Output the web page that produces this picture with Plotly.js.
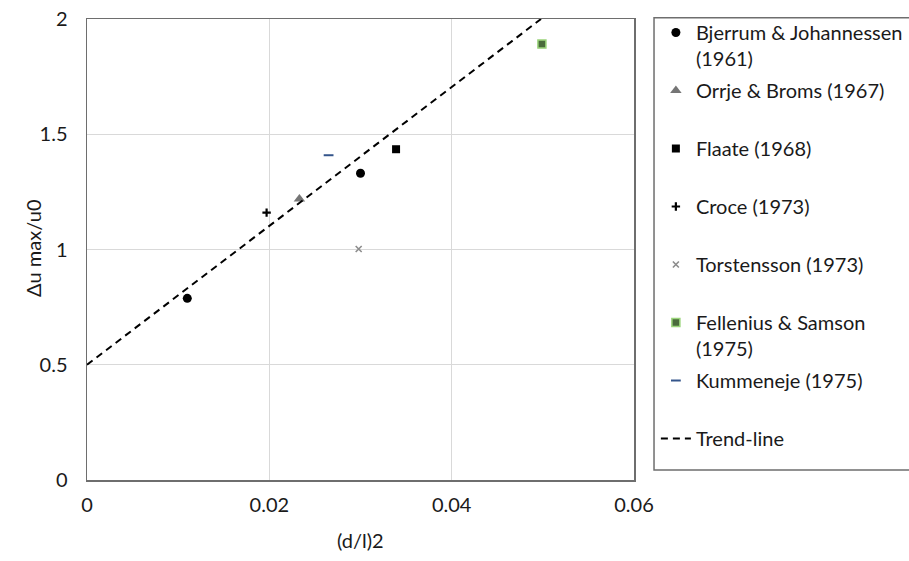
<!DOCTYPE html>
<html>
<head>
<meta charset="utf-8">
<script src="https://cdn.plot.ly/plotly-3.0.1.min.js"></script>
<style>html,body{margin:0;padding:0;background:#fff;}#chart{width:909px;height:561px;}</style>
</head>
<body>
<div id="chart"></div>
<script>
// Data
const seriesNames = [
  "Bjerrum & Johannessen<br>(1961)",
  "Orrje & Broms (1967)<br>&nbsp;",
  "Flaate (1968)<br>&nbsp;",
  "Croce (1973)<br>&nbsp;",
  "Torstensson (1973)<br>&nbsp;",
  "Fellenius & Samson<br>(1975)",
  "Kummeneje (1975)<br>&nbsp;"
];
const bjerrumX = [0.0110, 0.0300];
const bjerrumY = [0.788, 1.331];
const orrjeX = [0.0233];
const orrjeY = [1.219];
const flaateX = [0.0339];
const flaateY = [1.435];
const croceX = [0.0197];
const croceY = [1.160];
const torstenssonX = [0.0298];
const torstenssonY = [1.002];
const felleniusX = [0.0499];
const felleniusY = [1.891];
const kummenejeX = [0.0265];
const kummenejeY = [1.409];
const trendX = [0, 0.0498];
const trendY = [0.5, 2.0];
const trendName = "Trend-line<br>&nbsp;";
const xTicks = [0, 0.02, 0.04, 0.06];
const yTicks = [0, 0.5, 1, 1.5, 2];

const FONT = "Lato, 'Open Sans', sans-serif";

const traces = [
  {x: bjerrumX, y: bjerrumY, name: seriesNames[0], mode: "markers",
   marker: {symbol: "circle", size: 9, color: "#000000"}},
  {x: orrjeX, y: orrjeY, name: seriesNames[1], mode: "markers",
   marker: {symbol: "triangle-up", size: 10, color: "#757575"}},
  {x: flaateX, y: flaateY, name: seriesNames[2], mode: "markers",
   marker: {symbol: "square", size: 8, color: "#000000"}},
  {x: croceX, y: croceY, name: seriesNames[3], mode: "markers",
   marker: {symbol: "cross-thin-open", size: 6, color: "#000000", line: {color: "#000000", width: 2.2}}},
  {x: torstenssonX, y: torstenssonY, name: seriesNames[4], mode: "markers",
   marker: {symbol: "x-thin-open", size: 6, color: "#8c8c8c", line: {color: "#8c8c8c", width: 1.6}}},
  {x: felleniusX, y: felleniusY, name: seriesNames[5], mode: "markers",
   marker: {symbol: "square", size: 8, color: "#4a6b3c", line: {color: "#9ad47a", width: 1.5}}},
  {x: kummenejeX, y: kummenejeY, name: seriesNames[6], mode: "markers",
   marker: {symbol: "line-ew-open", size: 7, color: "#34558b", line: {color: "#34558b", width: 2}}},
  {x: trendX, y: trendY, name: trendName, mode: "lines",
   line: {color: "#000000", width: 2, dash: "7px,5px"}}
];
traces.forEach((t, i) => { t.type = "scatter"; t.legendgroup = "g" + i; t.hoverinfo = "skip"; });

const layout = {
  width: 909, height: 561,
  margin: {l: 87, r: 275, t: 19, b: 81, autoexpand: false},
  paper_bgcolor: "#ffffff", plot_bgcolor: "#ffffff",
  font: {family: FONT, size: 20, color: "#1a1a1a"},
  showlegend: true,
  xaxis: {
    range: [0, 0.06], tickvals: xTicks, ticktext: xTicks.map(String),
    showgrid: true, gridcolor: "#d9d9d9", gridwidth: 1,
    zeroline: false, showline: true, mirror: true, linecolor: "#6e6e6e", linewidth: 1.5,
    ticks: "", ticklabelstandoff: 6, fixedrange: true, automargin: false
  },
  yaxis: {
    range: [0, 2], tickvals: yTicks, ticktext: yTicks.map(String),
    showgrid: true, gridcolor: "#d9d9d9", gridwidth: 1,
    zeroline: false, showline: true, mirror: true, linecolor: "#6e6e6e", linewidth: 1.5,
    ticks: "", ticklabelstandoff: 14, fixedrange: true, automargin: false
  },
  legend: {
    x: 1.040, y: 1.013, xanchor: "left", yanchor: "top",
    bgcolor: "rgba(0,0,0,0)", borderwidth: 0, maxheight: 560,
    font: {family: FONT, size: 20, color: "#1a1a1a"},
    valign: "top", tracegroupgap: 3, traceorder: "grouped"
  },
  shapes: [
    {type: "rect", xref: "paper", yref: "paper", x0: 1.0366, x1: 1.52, y0: 0.0217, y1: 1.0028,
     line: {color: "#6e6e6e", width: 1.5}, fillcolor: "rgba(0,0,0,0)", layer: "below"}
  ],
  annotations: [
    {text: "(d/l)2", xref: "paper", yref: "paper", x: 0.5, y: -0.13, xanchor: "center", yanchor: "middle",
     showarrow: false, font: {family: FONT, size: 20, color: "#1a1a1a"}},
    {text: "Δu max/u0", xref: "paper", yref: "paper", x: -0.099, y: 0.503, xanchor: "center", yanchor: "middle",
     textangle: -90, showarrow: false, font: {family: FONT, size: 20, color: "#1a1a1a"}}
  ]
};

Plotly.newPlot("chart", traces, layout, {staticPlot: true, displayModeBar: false});
</script>
</body>
</html>
